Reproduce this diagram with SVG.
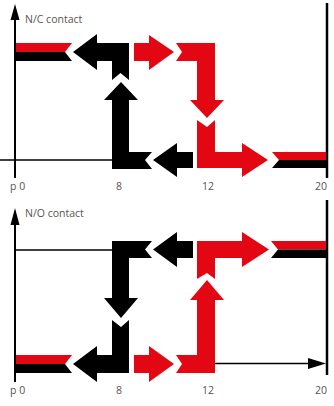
<svg xmlns="http://www.w3.org/2000/svg" width="334" height="406" viewBox="0 0 334 406">
<style>
.r{fill:#e30613}
.k{fill:#000}
.t{font-family:"Open Sans","Noto Sans",sans-serif;font-size:10.5px;fill:#555}
.ax{stroke:#000;stroke-width:2;fill:none}
.thin{stroke:#000;stroke-width:1.3;fill:none}
</style>
<rect width="334" height="406" fill="#fff"/>
<g id="nc-chart">
  <g id="nc-axes">
    <line class="ax" x1="15" y1="18" x2="15" y2="178"/>
    <polygon class="k" points="15,4 19.5,20 10.5,20"/>
    <line class="thin" x1="0" y1="160" x2="112" y2="160"/>
    <line x1="327" y1="3" x2="327" y2="178" stroke="#000" stroke-width="2.5"/>
    <text class="t" x="25" y="23">N/C contact</text>
    <text class="t" x="10" y="190">p 0</text>
    <text class="t" x="119" y="190" text-anchor="middle">8</text>
    <text class="t" x="208" y="190" text-anchor="middle">12</text>
    <text class="t" x="321" y="190" text-anchor="middle">20</text>
  </g>
  <g id="nc-bar-left">
    <polygon class="r" points="16,43 72,43 65,52 16,52"/>
    <polygon class="k" points="16,52 65,52 72,61 16,61"/>
  </g>
  <g id="nc-black-left">
    <polygon class="k" points="73,52 97,34 97,43 129,43 129,80 120.5,73 112,80 112,61 97,61 97,70"/>
  </g>
  <g id="nc-black-up">
    <polygon class="k" points="121,82 138,100 129,100 129,152 152,152 145,160 152,169 112,169 112,100 104,100"/>
  </g>
  <g id="nc-black-left2">
    <polygon class="k" points="153,160 177,143 177,152 193,152 193,168 177,168 177,177"/>
  </g>
  <g id="nc-red-right">
    <polygon class="r" points="134,43 149,43 149,35 174,52 149,70 149,61 134,61"/>
  </g>
  <g id="nc-red-down">
    <polygon class="r" points="176,43 215,43 215,100 224,100 207,118 190,100 197,100 197,61 176,61 182,52"/>
  </g>
  <g id="nc-red-right2">
    <polygon class="r" points="197,120 207,127 215,120 215,152 242,152 242,143 268,160 242,177 242,168 197,168"/>
  </g>
  <g id="nc-bar-right">
    <polygon class="r" points="272,152 326,152 326,160 279,160"/>
    <polygon class="k" points="279,160 326,160 326,168 272,168"/>
  </g>
</g>
<g id="no-chart">
  <g id="no-axes">
    <line class="ax" x1="15" y1="222" x2="15" y2="382"/>
    <polygon class="k" points="15,208 19.5,225 10.5,225"/>
    <line class="thin" x1="15" y1="250" x2="112" y2="250"/>
    <line x1="327" y1="200" x2="327" y2="375" stroke="#000" stroke-width="2.5"/>
    <text class="t" x="25" y="217">N/O contact</text>
    <text class="t" x="10" y="394">p 0</text>
    <text class="t" x="119" y="394" text-anchor="middle">8</text>
    <text class="t" x="208" y="394" text-anchor="middle">12</text>
    <text class="t" x="321" y="394" text-anchor="middle">20</text>
  </g>
  <g id="no-black-down">
    <polygon class="k" points="112,241 152,241 145,249.5 152,258 129,258 129,298 138,298 121,318 104,298 112,298"/>
  </g>
  <g id="no-black-left">
    <polygon class="k" points="153,249.5 177,232 177,241 193,241 193,258 177,258 177,267"/>
  </g>
  <g id="no-red-right">
    <polygon class="r" points="197,241 242,241 242,232 269,249.5 242,267 242,258 215,258 215,279 207,273 197,279"/>
  </g>
  <g id="no-bar-right">
    <polygon class="r" points="271,241 326,241 326,249.5 278,249.5"/>
    <polygon class="k" points="278,249.5 326,249.5 326,258 271,258"/>
  </g>
  <g id="no-black-left2">
    <polygon class="k" points="112,320 121,327 129,320 129,373 97,373 97,382 73,364 97,346 97,355 112,355"/>
  </g>
  <g id="no-bar-left">
    <polygon class="r" points="16,355 72,355 65,364 16,364"/>
    <polygon class="k" points="16,364 65,364 72,373 16,373"/>
  </g>
  <g id="no-red-right2">
    <polygon class="r" points="134,355 149,355 149,346 174,364 149,382 149,373 134,373"/>
  </g>
  <g id="no-red-up">
    <polygon class="r" points="207,280 224,300 215,300 215,373 176,373 182,364 176,355 197,355 197,300 190,300"/>
  </g>
</g>
<g id="connectors">
  <line class="thin" x1="215" y1="363.5" x2="310" y2="363.5"/>
  <polygon class="k" points="326,363.5 308,358 308,369"/>
</g>
</svg>
